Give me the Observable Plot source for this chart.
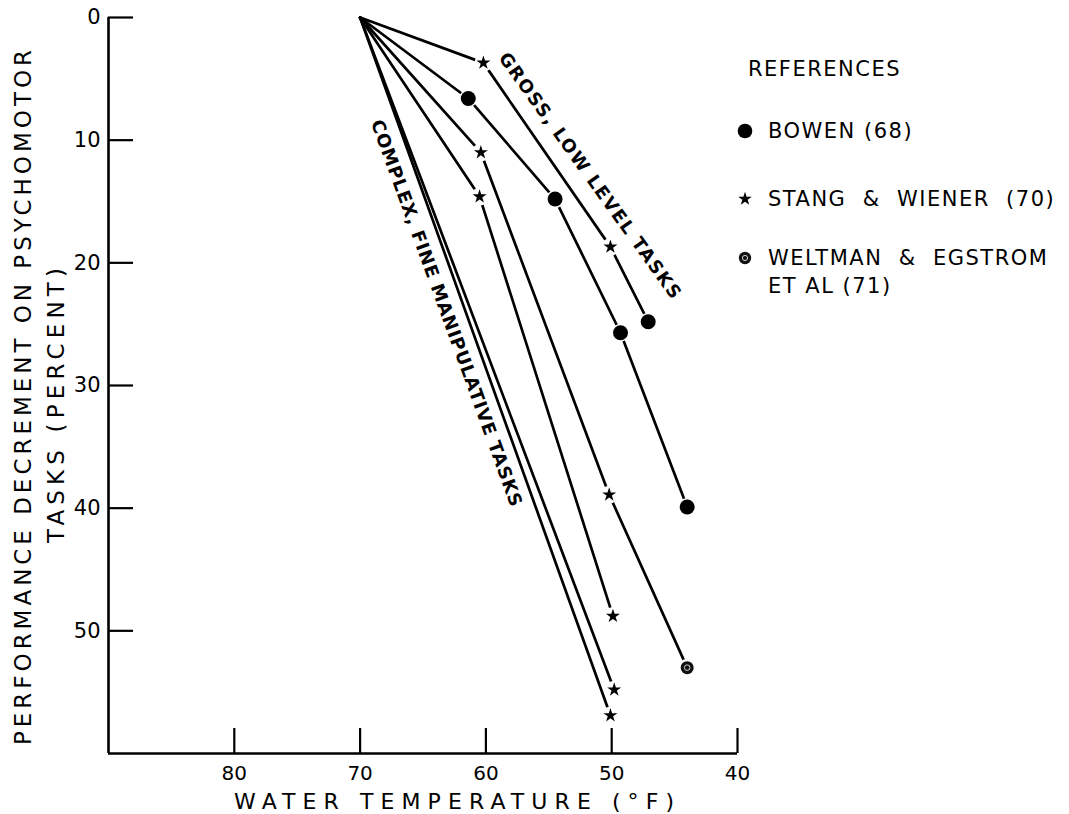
<!DOCTYPE html>
<html>
<head>
<meta charset="utf-8">
<script src="https://cdn.jsdelivr.net/npm/d3@7"></script>
<script src="https://cdn.jsdelivr.net/npm/@observablehq/plot@0.6"></script>
<style>
  html, body { margin: 0; padding: 0; background: #fff; }
  #wrap { position: relative; width: 1069px; height: 814px; font-family: "DejaVu Sans", sans-serif; color: #000; }
  #legend { position: absolute; left: 0; top: 0; font-size: 21px; letter-spacing: 1.5px; line-height: 24px; }
  #legend .t { position: absolute; white-space: pre; }
  #legend svg { position: absolute; width: 22px; height: 22px; }
</style>
</head>
<body>
<div id="wrap"><div id="chart"></div><div id="legend"></div></div>
<script>
// ---- data ----
const xTicks = [80, 70, 60, 50, 40];
const yTicks = [0, 10, 20, 30, 40, 50];
const lineIds = ["gross", "bowen", "stang1", "stang2", "stang3", "stang4"];
const lineTemps = [
  [70, 60.2, 50.1, 47.1],
  [70, 61.4, 54.5, 49.3, 44.0],
  [70, 60.4, 50.2, 44.0],
  [70, 60.5, 49.9],
  [70, 49.8],
  [70, 50.1]
];
const lineDecrements = [
  [0, 3.7, 18.7, 24.8],
  [0, 6.6, 14.8, 25.7, 39.9],
  [0, 11.0, 38.9, 53.0],
  [0, 14.6, 48.8],
  [0, 54.8],
  [0, 56.9]
];
const lineSources = [
  [null, "stang", "stang", "bowen"],
  [null, "bowen", "bowen", "bowen", "bowen"],
  [null, "stang", "stang", "weltman"],
  [null, "stang", "stang"],
  [null, "stang"],
  [null, "stang"]
];
const legendTitle = "REFERENCES";
const legendKeys = ["bowen", "stang", "weltman"];
const legendLabels = ["BOWEN (68)", "STANG  &  WIENER  (70)", "WELTMAN  &  EGSTROM\nET AL (71)"];
const curveLabels = ["GROSS, LOW LEVEL TASKS", "COMPLEX, FINE MANIPULATIVE TASKS"];
const curveLabelTemps = [51.75, 63.15];
const curveLabelDecrements = [12.9, 24.1];
const xTitle = "WATER TEMPERATURE (°F)";
const yTitleLines = ["PERFORMANCE DECREMENT ON PSYCHOMOTOR", "TASKS (PERCENT)"];

// ---- build table ----
const rows = [];
lineIds.forEach((id, i) => {
  lineTemps[i].forEach((t, j) => {
    rows.push({line: id, temp: t, dec: lineDecrements[i][j], source: lineSources[i][j]});
  });
});
const markers = rows.filter(d => d.source);
const labelRows = curveLabels.map((t, i) => ({text: t, temp: curveLabelTemps[i], dec: curveLabelDecrements[i]}));

const font = "DejaVu Sans, sans-serif";

const chart = Plot.plot({
  width: 1069,
  height: 814,
  marginLeft: 108,
  marginRight: 332,
  marginTop: 17,
  marginBottom: 61,
  style: {fontFamily: font, background: "#fff", color: "#000", overflow: "visible"},
  x: {domain: [90, 40]},
  y: {domain: [60, 0]},
  marks: [
    Plot.ruleX([90], {strokeWidth: 2.6}),
    Plot.ruleY([60], {strokeWidth: 2.6}),
    Plot.axisX(xTicks, {anchor: "bottom", tickSize: -25, tickPadding: 37, strokeWidth: 2.2, fontSize: 20, label: null}),
    Plot.axisY(yTicks, {anchor: "left", tickSize: -25, tickPadding: 33, strokeWidth: 2.2, fontSize: 21, label: null}),
    Plot.line(rows, {x: "temp", y: "dec", z: "line", stroke: "black", strokeWidth: 2.7, strokeLinecap: "round"}),
    Plot.dot(markers, {x: "temp", y: "dec", r: 9, fill: "white"}),
    Plot.dot(markers.filter(d => d.source === "bowen"), {x: "temp", y: "dec", r: 7.5, fill: "black"}),
    Plot.dot(markers.filter(d => d.source === "stang"), {x: "temp", y: "dec", r: 4.4, symbol: "star", fill: "black"}),
    Plot.dot(markers.filter(d => d.source === "weltman"), {x: "temp", y: "dec", r: 6.5, fill: "#111"}),
    Plot.dot(markers.filter(d => d.source === "weltman"), {x: "temp", y: "dec", r: 2.8, fill: "none", stroke: "white", strokeWidth: 0.8}),
    Plot.text(labelRows.slice(0, 1), {x: "temp", y: "dec", text: "text", rotate: 54.3, fontSize: 18, fontWeight: "bold"}),
    Plot.text(labelRows.slice(1), {x: "temp", y: "dec", text: "text", rotate: 70.0, fontSize: 18, fontWeight: "bold"}),
    Plot.text([xTitle], {frameAnchor: "bottom", textAnchor: "middle", dy: 48, dx: 31, fontSize: 22, lineAnchor: "middle"}),
    Plot.text([yTitleLines[0]], {frameAnchor: "left", textAnchor: "middle", rotate: -90, dx: -85, dy: 12, fontSize: 23, lineAnchor: "middle"}),
    Plot.text([yTitleLines[1]], {frameAnchor: "left", textAnchor: "middle", rotate: -90, dx: -52, dy: 20, fontSize: 23, lineAnchor: "middle"})
  ]
});
document.getElementById("chart").appendChild(chart);

// stretch spaced lettering to the reference's lengths
const spread = new Map([
  [yTitleLines[0], 695],
  [yTitleLines[1], 275],
  [xTitle, 440],
  [curveLabels[0], 298],
  [curveLabels[1], 410]
]);
d3.select(chart).selectAll("text").each(function () {
  const len = spread.get(this.textContent);
  if (len) {
    this.setAttribute("textLength", len);
    this.setAttribute("lengthAdjust", "spacing");
  }
});

// ---- legend (HTML overlay) ----
const legend = document.getElementById("legend");
function addText(str, left, centerY) {
  const d = document.createElement("div");
  d.className = "t";
  d.textContent = str;
  d.style.left = left + "px";
  d.style.top = (centerY - 12) + "px";
  legend.appendChild(d);
}
const symbolSvg = {
  bowen: '<svg viewBox="-11 -11 22 22"><circle r="7.3" fill="black"/></svg>',
  stang: '<svg viewBox="-11 -11 22 22"><path d="' + d3.symbol(d3.symbolStar, 58)() + '" fill="black"/></svg>',
  weltman: '<svg viewBox="-11 -11 22 22"><circle r="6.2" fill="#111"/><circle r="2.6" fill="none" stroke="white" stroke-width="0.8"/></svg>'
};
addText(legendTitle, 748, 69);
const itemCenters = [131, 199, 258];
legendKeys.forEach((k, i) => {
  const holder = document.createElement("div");
  holder.innerHTML = symbolSvg[k];
  const svg = holder.firstChild;
  svg.style.left = (745 - 11) + "px";
  svg.style.top = (itemCenters[i] - 11) + "px";
  legend.appendChild(svg);
  legendLabels[i].split("\n").forEach((ln, j) => addText(ln, 768, itemCenters[i] + j * 28));
});
</script>
</body>
</html>
